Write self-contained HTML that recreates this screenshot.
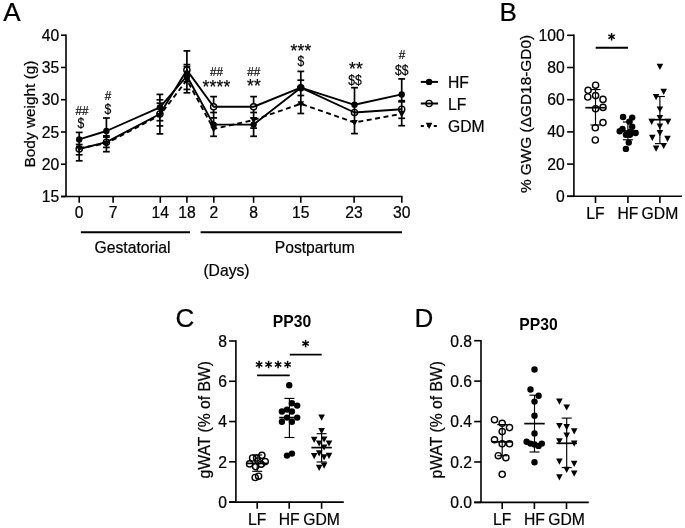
<!DOCTYPE html>
<html><head><meta charset="utf-8"><title>Figure</title>
<style>
html,body{margin:0;padding:0;background:#fff;}
body{width:685px;height:528px;overflow:hidden;}
svg{display:block;will-change:transform;}
svg text{font-family:"Liberation Sans", sans-serif;fill:#000;}
</style></head><body>
<svg width="685" height="528" viewBox="0 0 685 528" stroke="#000" stroke-linecap="butt">
<rect x="0" y="0" width="685" height="528" fill="#fff" stroke="none"/>
<text stroke="#000" stroke-width="0.22" x="3.25" y="21.40" font-size="26" text-anchor="start" font-weight="normal" >A</text>
<line x1="66.00" y1="34.40" x2="66.00" y2="196.50" stroke-width="1.6" />
<line x1="61.00" y1="196.50" x2="402.60" y2="196.50" stroke-width="1.6" />
<line x1="61.00" y1="35.20" x2="66.00" y2="35.20" stroke-width="1.6" />
<text stroke="#000" stroke-width="0.22" x="59.30" y="40.60" font-size="15.7" text-anchor="end" font-weight="normal" >40</text>
<line x1="61.00" y1="67.46" x2="66.00" y2="67.46" stroke-width="1.6" />
<text stroke="#000" stroke-width="0.22" x="59.30" y="72.86" font-size="15.7" text-anchor="end" font-weight="normal" >35</text>
<line x1="61.00" y1="99.72" x2="66.00" y2="99.72" stroke-width="1.6" />
<text stroke="#000" stroke-width="0.22" x="59.30" y="105.12" font-size="15.7" text-anchor="end" font-weight="normal" >30</text>
<line x1="61.00" y1="131.98" x2="66.00" y2="131.98" stroke-width="1.6" />
<text stroke="#000" stroke-width="0.22" x="59.30" y="137.98" font-size="15.7" text-anchor="end" font-weight="normal" >25</text>
<line x1="61.00" y1="164.24" x2="66.00" y2="164.24" stroke-width="1.6" />
<text stroke="#000" stroke-width="0.22" x="59.30" y="169.64" font-size="15.7" text-anchor="end" font-weight="normal" >20</text>
<line x1="61.00" y1="196.50" x2="66.00" y2="196.50" stroke-width="1.6" />
<text stroke="#000" stroke-width="0.22" x="59.30" y="201.90" font-size="15.7" text-anchor="end" font-weight="normal" >15</text>
<line x1="79.20" y1="196.50" x2="79.20" y2="202.80" stroke-width="1.6" />
<text stroke="#000" stroke-width="0.22" x="79.20" y="217.50" font-size="15.7" text-anchor="middle" font-weight="normal" >0</text>
<line x1="113.10" y1="196.50" x2="113.10" y2="202.80" stroke-width="1.6" />
<text stroke="#000" stroke-width="0.22" x="113.10" y="217.50" font-size="15.7" text-anchor="middle" font-weight="normal" >7</text>
<line x1="160.30" y1="196.50" x2="160.30" y2="202.80" stroke-width="1.6" />
<text stroke="#000" stroke-width="0.22" x="160.30" y="217.50" font-size="15.7" text-anchor="middle" font-weight="normal" >14</text>
<line x1="186.90" y1="196.50" x2="186.90" y2="202.80" stroke-width="1.6" />
<text stroke="#000" stroke-width="0.22" x="186.90" y="217.50" font-size="15.7" text-anchor="middle" font-weight="normal" >18</text>
<line x1="213.80" y1="196.50" x2="213.80" y2="202.80" stroke-width="1.6" />
<text stroke="#000" stroke-width="0.22" x="213.80" y="217.50" font-size="15.7" text-anchor="middle" font-weight="normal" >2</text>
<line x1="253.60" y1="196.50" x2="253.60" y2="202.80" stroke-width="1.6" />
<text stroke="#000" stroke-width="0.22" x="253.60" y="217.50" font-size="15.7" text-anchor="middle" font-weight="normal" >8</text>
<line x1="300.80" y1="196.50" x2="300.80" y2="202.80" stroke-width="1.6" />
<text stroke="#000" stroke-width="0.22" x="300.80" y="217.50" font-size="15.7" text-anchor="middle" font-weight="normal" >15</text>
<line x1="354.10" y1="196.50" x2="354.10" y2="202.80" stroke-width="1.6" />
<text stroke="#000" stroke-width="0.22" x="354.10" y="217.50" font-size="15.7" text-anchor="middle" font-weight="normal" >23</text>
<line x1="401.80" y1="196.50" x2="401.80" y2="202.80" stroke-width="1.6" />
<text stroke="#000" stroke-width="0.22" x="401.80" y="217.50" font-size="15.7" text-anchor="middle" font-weight="normal" >30</text>
<line x1="80.90" y1="232.30" x2="190.00" y2="232.30" stroke-width="1.9" />
<line x1="200.60" y1="232.30" x2="402.00" y2="232.30" stroke-width="1.9" />
<text stroke="#000" stroke-width="0.22" x="132.50" y="252.80" font-size="15.7" text-anchor="middle" font-weight="normal" >Gestatorial</text>
<text stroke="#000" stroke-width="0.22" x="314.80" y="252.80" font-size="15.7" text-anchor="middle" font-weight="normal" >Postpartum</text>
<text stroke="#000" stroke-width="0.22" x="226.50" y="275.50" font-size="15.7" text-anchor="middle" font-weight="normal" >(Days)</text>
<text stroke="#000" stroke-width="0.22" x="35.10" y="114.00" font-size="15.4" text-anchor="middle" font-weight="normal" transform="rotate(-90 35.1 114.0)">Body weight (g)</text>
<line x1="79.20" y1="132.40" x2="79.20" y2="160.80" stroke-width="1.7" />
<line x1="75.80" y1="132.40" x2="82.60" y2="132.40" stroke-width="1.7" />
<line x1="75.80" y1="144.50" x2="82.60" y2="144.50" stroke-width="1.7" />
<line x1="75.80" y1="154.80" x2="82.60" y2="154.80" stroke-width="1.7" />
<line x1="75.80" y1="160.80" x2="82.60" y2="160.80" stroke-width="1.7" />
<line x1="106.40" y1="118.00" x2="106.40" y2="151.70" stroke-width="1.7" />
<line x1="103.00" y1="118.00" x2="109.80" y2="118.00" stroke-width="1.7" />
<line x1="103.00" y1="135.90" x2="109.80" y2="135.90" stroke-width="1.7" />
<line x1="103.00" y1="137.10" x2="109.80" y2="137.10" stroke-width="1.7" />
<line x1="103.00" y1="147.40" x2="109.80" y2="147.40" stroke-width="1.7" />
<line x1="103.00" y1="151.70" x2="109.80" y2="151.70" stroke-width="1.7" />
<line x1="159.90" y1="94.40" x2="159.90" y2="133.90" stroke-width="1.7" />
<line x1="156.50" y1="94.40" x2="163.30" y2="94.40" stroke-width="1.7" />
<line x1="156.50" y1="99.80" x2="163.30" y2="99.80" stroke-width="1.7" />
<line x1="156.50" y1="103.20" x2="163.30" y2="103.20" stroke-width="1.7" />
<line x1="156.50" y1="120.70" x2="163.30" y2="120.70" stroke-width="1.7" />
<line x1="156.50" y1="125.90" x2="163.30" y2="125.90" stroke-width="1.7" />
<line x1="156.50" y1="133.90" x2="163.30" y2="133.90" stroke-width="1.7" />
<line x1="186.90" y1="50.90" x2="186.90" y2="92.80" stroke-width="1.7" />
<line x1="183.50" y1="50.90" x2="190.30" y2="50.90" stroke-width="1.7" />
<line x1="183.50" y1="64.60" x2="190.30" y2="64.60" stroke-width="1.7" />
<line x1="183.50" y1="66.60" x2="190.30" y2="66.60" stroke-width="1.7" />
<line x1="183.50" y1="81.70" x2="190.30" y2="81.70" stroke-width="1.7" />
<line x1="183.50" y1="89.40" x2="190.30" y2="89.40" stroke-width="1.7" />
<line x1="183.50" y1="92.80" x2="190.30" y2="92.80" stroke-width="1.7" />
<line x1="213.60" y1="96.60" x2="213.60" y2="136.30" stroke-width="1.7" />
<line x1="210.20" y1="96.60" x2="217.00" y2="96.60" stroke-width="1.7" />
<line x1="210.20" y1="112.50" x2="217.00" y2="112.50" stroke-width="1.7" />
<line x1="210.20" y1="117.90" x2="217.00" y2="117.90" stroke-width="1.7" />
<line x1="210.20" y1="136.30" x2="217.00" y2="136.30" stroke-width="1.7" />
<line x1="253.60" y1="96.60" x2="253.60" y2="136.30" stroke-width="1.7" />
<line x1="250.20" y1="96.60" x2="257.00" y2="96.60" stroke-width="1.7" />
<line x1="250.20" y1="112.50" x2="257.00" y2="112.50" stroke-width="1.7" />
<line x1="250.20" y1="117.90" x2="257.00" y2="117.90" stroke-width="1.7" />
<line x1="250.20" y1="128.10" x2="257.00" y2="128.10" stroke-width="1.7" />
<line x1="250.20" y1="136.30" x2="257.00" y2="136.30" stroke-width="1.7" />
<line x1="300.80" y1="71.40" x2="300.80" y2="113.50" stroke-width="1.7" />
<line x1="297.40" y1="71.40" x2="304.20" y2="71.40" stroke-width="1.7" />
<line x1="297.40" y1="80.20" x2="304.20" y2="80.20" stroke-width="1.7" />
<line x1="297.40" y1="95.50" x2="304.20" y2="95.50" stroke-width="1.7" />
<line x1="297.40" y1="104.20" x2="304.20" y2="104.20" stroke-width="1.7" />
<line x1="297.40" y1="113.50" x2="304.20" y2="113.50" stroke-width="1.7" />
<line x1="354.50" y1="87.70" x2="354.50" y2="133.60" stroke-width="1.7" />
<line x1="351.10" y1="87.70" x2="357.90" y2="87.70" stroke-width="1.7" />
<line x1="351.10" y1="133.60" x2="357.90" y2="133.60" stroke-width="1.7" />
<line x1="401.70" y1="78.90" x2="401.70" y2="125.70" stroke-width="1.7" />
<line x1="398.30" y1="78.90" x2="405.10" y2="78.90" stroke-width="1.7" />
<line x1="398.30" y1="100.70" x2="405.10" y2="100.70" stroke-width="1.7" />
<line x1="398.30" y1="101.80" x2="405.10" y2="101.80" stroke-width="1.7" />
<line x1="398.30" y1="118.30" x2="405.10" y2="118.30" stroke-width="1.7" />
<line x1="398.30" y1="125.70" x2="405.10" y2="125.70" stroke-width="1.7" />
<circle cx="213.60" cy="106.80" r="2.9" fill="#fff" stroke="none"/>
<circle cx="253.60" cy="106.80" r="2.9" fill="#fff" stroke="none"/>
<polyline points="79.20,148.30 106.40,143.30 159.90,115.30 186.90,80.00 213.60,129.00 253.60,120.00 300.80,103.80 354.50,122.50 401.70,113.80" fill="none" stroke-width="1.9" stroke-linejoin="round" stroke-dasharray="5 3.5"/>
<polyline points="79.20,149.00 106.40,142.20 159.90,114.00 186.90,70.10 213.60,106.80 253.60,106.80 300.80,87.70 354.50,112.50 401.70,109.20" fill="none" stroke-width="1.9" stroke-linejoin="round" />
<polyline points="79.20,139.40 106.40,131.00 159.90,107.40 186.90,76.00 213.60,124.60 253.60,124.60 300.80,87.70 354.50,104.80 401.70,94.40" fill="none" stroke-width="1.9" stroke-linejoin="round" />
<circle cx="79.20" cy="149.00" r="3.1" fill="none" stroke-width="1.4"/>
<circle cx="106.40" cy="142.20" r="3.1" fill="none" stroke-width="1.4"/>
<circle cx="159.90" cy="114.00" r="3.1" fill="none" stroke-width="1.4"/>
<circle cx="186.90" cy="70.10" r="3.1" fill="none" stroke-width="1.4"/>
<circle cx="213.60" cy="106.80" r="3.1" fill="none" stroke-width="1.4"/>
<circle cx="253.60" cy="106.80" r="3.1" fill="none" stroke-width="1.4"/>
<circle cx="300.80" cy="87.70" r="3.1" fill="none" stroke-width="1.4"/>
<circle cx="354.50" cy="112.50" r="3.1" fill="none" stroke-width="1.4"/>
<circle cx="401.70" cy="109.20" r="3.1" fill="none" stroke-width="1.4"/>
<path d="M75.90,145.70 L82.50,145.70 L79.20,151.90 Z" fill="#000" stroke="none"/>
<path d="M103.10,140.70 L109.70,140.70 L106.40,146.90 Z" fill="#000" stroke="none"/>
<path d="M156.60,112.70 L163.20,112.70 L159.90,118.90 Z" fill="#000" stroke="none"/>
<path d="M183.60,77.40 L190.20,77.40 L186.90,83.60 Z" fill="#000" stroke="none"/>
<path d="M210.30,126.40 L216.90,126.40 L213.60,132.60 Z" fill="#000" stroke="none"/>
<path d="M250.30,117.40 L256.90,117.40 L253.60,123.60 Z" fill="#000" stroke="none"/>
<path d="M297.50,101.20 L304.10,101.20 L300.80,107.40 Z" fill="#000" stroke="none"/>
<path d="M351.20,119.90 L357.80,119.90 L354.50,126.10 Z" fill="#000" stroke="none"/>
<path d="M398.40,111.20 L405.00,111.20 L401.70,117.40 Z" fill="#000" stroke="none"/>
<circle cx="79.20" cy="139.40" r="3.2" fill="#000" stroke="none"/>
<circle cx="106.40" cy="131.00" r="3.2" fill="#000" stroke="none"/>
<circle cx="159.90" cy="107.40" r="3.2" fill="#000" stroke="none"/>
<circle cx="186.90" cy="76.00" r="3.2" fill="#000" stroke="none"/>
<circle cx="213.60" cy="124.60" r="3.2" fill="#000" stroke="none"/>
<circle cx="253.60" cy="124.60" r="3.2" fill="#000" stroke="none"/>
<circle cx="300.80" cy="87.70" r="3.2" fill="#000" stroke="none"/>
<circle cx="354.50" cy="104.80" r="3.2" fill="#000" stroke="none"/>
<circle cx="401.70" cy="94.40" r="3.2" fill="#000" stroke="none"/>
<text stroke="#000" stroke-width="0.2" transform="translate(82.00,115.00) scale(0.86,1)" x="0" y="0" font-size="13.6" text-anchor="middle">##</text>
<text stroke="#000" stroke-width="0.2" transform="translate(81.00,128.25) scale(0.85,1)" x="0" y="0" font-size="14.3" text-anchor="middle">$</text>
<text stroke="#000" stroke-width="0.2" transform="translate(108.10,99.75) scale(0.86,1)" x="0" y="0" font-size="13.6" text-anchor="middle">#</text>
<text stroke="#000" stroke-width="0.2" transform="translate(108.00,114.40) scale(0.85,1)" x="0" y="0" font-size="14.3" text-anchor="middle">$</text>
<text stroke="#000" stroke-width="0.2" transform="translate(216.40,76.00) scale(0.86,1)" x="0" y="0" font-size="13.6" text-anchor="middle">##</text>
<text stroke="#000" stroke-width="0.2" x="205.80" y="92.97" font-size="17.5" text-anchor="middle">*</text>
<text stroke="#000" stroke-width="0.2" x="212.80" y="92.97" font-size="17.5" text-anchor="middle">*</text>
<text stroke="#000" stroke-width="0.2" x="219.80" y="92.97" font-size="17.5" text-anchor="middle">*</text>
<text stroke="#000" stroke-width="0.2" x="226.80" y="92.97" font-size="17.5" text-anchor="middle">*</text>
<text stroke="#000" stroke-width="0.2" transform="translate(253.70,76.00) scale(0.86,1)" x="0" y="0" font-size="13.6" text-anchor="middle">##</text>
<text stroke="#000" stroke-width="0.2" x="250.40" y="92.37" font-size="17.5" text-anchor="middle">*</text>
<text stroke="#000" stroke-width="0.2" x="257.40" y="92.37" font-size="17.5" text-anchor="middle">*</text>
<text stroke="#000" stroke-width="0.2" x="293.90" y="56.97" font-size="17.5" text-anchor="middle">*</text>
<text stroke="#000" stroke-width="0.2" x="300.90" y="56.97" font-size="17.5" text-anchor="middle">*</text>
<text stroke="#000" stroke-width="0.2" x="307.90" y="56.97" font-size="17.5" text-anchor="middle">*</text>
<text stroke="#000" stroke-width="0.2" transform="translate(300.80,66.35) scale(0.85,1)" x="0" y="0" font-size="14.3" text-anchor="middle">$</text>
<text stroke="#000" stroke-width="0.2" x="352.40" y="75.17" font-size="17.5" text-anchor="middle">*</text>
<text stroke="#000" stroke-width="0.2" x="359.40" y="75.17" font-size="17.5" text-anchor="middle">*</text>
<text stroke="#000" stroke-width="0.2" transform="translate(355.00,85.05) scale(0.85,1)" x="0" y="0" font-size="14.3" text-anchor="middle">$$</text>
<text stroke="#000" stroke-width="0.2" transform="translate(402.00,58.90) scale(0.86,1)" x="0" y="0" font-size="13.6" text-anchor="middle">#</text>
<text stroke="#000" stroke-width="0.2" transform="translate(401.80,74.75) scale(0.85,1)" x="0" y="0" font-size="14.3" text-anchor="middle">$$</text>
<line x1="420.80" y1="81.90" x2="438.10" y2="81.90" stroke-width="2.0" />
<circle cx="429.10" cy="81.90" r="3.2" fill="#000" stroke="none"/>
<line x1="420.80" y1="103.50" x2="438.10" y2="103.50" stroke-width="2.0" />
<circle cx="429.10" cy="103.50" r="3.1" fill="none" stroke-width="1.4"/>
<line x1="420.80" y1="126.00" x2="438.10" y2="126.00" stroke-width="2.0" stroke-dasharray="3 3.5"/>
<path d="M425.80,122.80 L432.40,122.80 L429.10,129.00 Z" fill="#000" stroke="none"/>
<text stroke="#000" stroke-width="0.22" x="448.00" y="87.60" font-size="15.7" text-anchor="start" font-weight="normal" >HF</text>
<text stroke="#000" stroke-width="0.22" x="448.00" y="109.60" font-size="15.7" text-anchor="start" font-weight="normal" >LF</text>
<text stroke="#000" stroke-width="0.22" x="448.00" y="131.60" font-size="15.7" text-anchor="start" font-weight="normal" >GDM</text>
<text stroke="#000" stroke-width="0.22" x="499.50" y="21.40" font-size="26" text-anchor="start" font-weight="normal" >B</text>
<line x1="573.90" y1="34.50" x2="573.90" y2="196.30" stroke-width="1.6" />
<line x1="567.10" y1="196.30" x2="682.00" y2="196.30" stroke-width="1.6" />
<line x1="567.10" y1="196.30" x2="573.90" y2="196.30" stroke-width="1.6" />
<text stroke="#000" stroke-width="0.22" x="564.80" y="201.70" font-size="15.7" text-anchor="end" font-weight="normal" >0</text>
<line x1="567.10" y1="164.10" x2="573.90" y2="164.10" stroke-width="1.6" />
<text stroke="#000" stroke-width="0.22" x="564.80" y="169.50" font-size="15.7" text-anchor="end" font-weight="normal" >20</text>
<line x1="567.10" y1="131.90" x2="573.90" y2="131.90" stroke-width="1.6" />
<text stroke="#000" stroke-width="0.22" x="564.80" y="137.30" font-size="15.7" text-anchor="end" font-weight="normal" >40</text>
<line x1="567.10" y1="99.70" x2="573.90" y2="99.70" stroke-width="1.6" />
<text stroke="#000" stroke-width="0.22" x="564.80" y="105.10" font-size="15.7" text-anchor="end" font-weight="normal" >60</text>
<line x1="567.10" y1="67.50" x2="573.90" y2="67.50" stroke-width="1.6" />
<text stroke="#000" stroke-width="0.22" x="564.80" y="72.90" font-size="15.7" text-anchor="end" font-weight="normal" >80</text>
<line x1="567.10" y1="35.30" x2="573.90" y2="35.30" stroke-width="1.6" />
<text stroke="#000" stroke-width="0.22" x="564.80" y="40.70" font-size="15.7" text-anchor="end" font-weight="normal" >100</text>
<line x1="595.50" y1="196.30" x2="595.50" y2="203.00" stroke-width="1.6" />
<text stroke="#000" stroke-width="0.22" x="595.50" y="218.80" font-size="15.7" text-anchor="middle" font-weight="normal" >LF</text>
<line x1="627.90" y1="196.30" x2="627.90" y2="203.00" stroke-width="1.6" />
<text stroke="#000" stroke-width="0.22" x="627.90" y="218.80" font-size="15.7" text-anchor="middle" font-weight="normal" >HF</text>
<line x1="659.90" y1="196.30" x2="659.90" y2="203.00" stroke-width="1.6" />
<text stroke="#000" stroke-width="0.22" x="659.90" y="218.80" font-size="15.7" text-anchor="middle" font-weight="normal" >GDM</text>
<text stroke="#000" stroke-width="0.22" x="531.00" y="114.00" font-size="15.4" text-anchor="middle" font-weight="normal" transform="rotate(-90 531.0 114.0)">% GWG (ΔGD18-GD0)</text>
<line x1="595.70" y1="47.70" x2="628.00" y2="47.70" stroke-width="1.9" />
<line x1="611.60" y1="33.10" x2="611.60" y2="40.50" stroke-width="1.5"/>
<line x1="608.40" y1="34.95" x2="614.80" y2="38.65" stroke-width="1.5"/>
<line x1="614.80" y1="34.95" x2="608.40" y2="38.65" stroke-width="1.5"/>
<circle cx="611.60" cy="36.80" r="1.2" fill="#000" stroke="none"/>
<line x1="595.50" y1="89.60" x2="595.50" y2="125.00" stroke-width="1.15" />
<line x1="590.50" y1="89.60" x2="600.50" y2="89.60" stroke-width="1.15" />
<line x1="590.50" y1="125.00" x2="600.50" y2="125.00" stroke-width="1.15" />
<line x1="585.30" y1="107.70" x2="605.70" y2="107.70" stroke-width="1.7" />
<circle cx="595.60" cy="85.20" r="3.1" fill="none" stroke-width="1.4"/>
<circle cx="588.10" cy="90.30" r="3.1" fill="none" stroke-width="1.4"/>
<circle cx="595.60" cy="95.60" r="3.1" fill="none" stroke-width="1.4"/>
<circle cx="587.80" cy="97.00" r="3.1" fill="none" stroke-width="1.4"/>
<circle cx="603.00" cy="99.40" r="3.1" fill="none" stroke-width="1.4"/>
<circle cx="595.60" cy="108.80" r="3.1" fill="none" stroke-width="1.4"/>
<circle cx="603.00" cy="107.40" r="3.1" fill="none" stroke-width="1.4"/>
<circle cx="603.00" cy="122.60" r="3.1" fill="none" stroke-width="1.4"/>
<circle cx="595.30" cy="127.80" r="3.1" fill="none" stroke-width="1.4"/>
<circle cx="595.30" cy="140.00" r="3.1" fill="none" stroke-width="1.4"/>
<line x1="627.90" y1="122.00" x2="627.90" y2="139.80" stroke-width="1.15" />
<line x1="622.90" y1="122.00" x2="632.90" y2="122.00" stroke-width="1.15" />
<line x1="622.90" y1="139.80" x2="632.90" y2="139.80" stroke-width="1.15" />
<line x1="617.70" y1="131.00" x2="638.10" y2="131.00" stroke-width="1.7" />
<circle cx="623.10" cy="117.00" r="3.2" fill="#000" stroke="none"/>
<circle cx="632.20" cy="117.60" r="3.2" fill="#000" stroke="none"/>
<circle cx="629.30" cy="121.60" r="3.2" fill="#000" stroke="none"/>
<circle cx="632.20" cy="126.70" r="3.2" fill="#000" stroke="none"/>
<circle cx="622.50" cy="129.00" r="3.2" fill="#000" stroke="none"/>
<circle cx="619.70" cy="131.25" r="3.2" fill="#000" stroke="none"/>
<circle cx="630.50" cy="131.80" r="3.2" fill="#000" stroke="none"/>
<circle cx="635.60" cy="133.00" r="3.2" fill="#000" stroke="none"/>
<circle cx="625.90" cy="134.70" r="3.2" fill="#000" stroke="none"/>
<circle cx="629.90" cy="134.70" r="3.2" fill="#000" stroke="none"/>
<circle cx="628.75" cy="142.60" r="3.2" fill="#000" stroke="none"/>
<circle cx="625.90" cy="148.90" r="3.2" fill="#000" stroke="none"/>
<line x1="659.90" y1="96.50" x2="659.90" y2="143.60" stroke-width="1.15" />
<line x1="654.90" y1="96.50" x2="664.90" y2="96.50" stroke-width="1.15" />
<line x1="654.90" y1="143.60" x2="664.90" y2="143.60" stroke-width="1.15" />
<line x1="649.70" y1="119.70" x2="670.10" y2="119.70" stroke-width="1.7" />
<path d="M656.60,63.80 L663.20,63.80 L659.90,70.00 Z" fill="#000" stroke="none"/>
<path d="M660.40,88.80 L667.00,88.80 L663.70,95.00 Z" fill="#000" stroke="none"/>
<path d="M652.80,94.10 L659.40,94.10 L656.10,100.30 Z" fill="#000" stroke="none"/>
<path d="M656.60,106.40 L663.20,106.40 L659.90,112.60 Z" fill="#000" stroke="none"/>
<path d="M656.60,114.90 L663.20,114.90 L659.90,121.10 Z" fill="#000" stroke="none"/>
<path d="M648.40,118.70 L655.00,118.70 L651.70,124.90 Z" fill="#000" stroke="none"/>
<path d="M664.70,118.70 L671.30,118.70 L668.00,124.90 Z" fill="#000" stroke="none"/>
<path d="M656.60,123.40 L663.20,123.40 L659.90,129.60 Z" fill="#000" stroke="none"/>
<path d="M656.60,130.10 L663.20,130.10 L659.90,136.30 Z" fill="#000" stroke="none"/>
<path d="M649.00,134.80 L655.60,134.80 L652.30,141.00 Z" fill="#000" stroke="none"/>
<path d="M664.20,135.70 L670.80,135.70 L667.50,141.90 Z" fill="#000" stroke="none"/>
<path d="M660.40,142.90 L667.00,142.90 L663.70,149.10 Z" fill="#000" stroke="none"/>
<path d="M652.80,145.60 L659.40,145.60 L656.10,151.80 Z" fill="#000" stroke="none"/>
<text stroke="#000" stroke-width="0.22" x="175.40" y="326.80" font-size="26" text-anchor="start" font-weight="normal" >C</text>
<line x1="235.90" y1="340.20" x2="235.90" y2="502.10" stroke-width="1.6" />
<line x1="229.10" y1="502.10" x2="343.80" y2="502.10" stroke-width="1.6" />
<line x1="229.10" y1="502.10" x2="235.90" y2="502.10" stroke-width="1.6" />
<text stroke="#000" stroke-width="0.22" x="227.00" y="508.00" font-size="15.7" text-anchor="end" font-weight="normal" >0</text>
<line x1="229.10" y1="461.83" x2="235.90" y2="461.83" stroke-width="1.6" />
<text stroke="#000" stroke-width="0.22" x="227.00" y="467.73" font-size="15.7" text-anchor="end" font-weight="normal" >2</text>
<line x1="229.10" y1="421.55" x2="235.90" y2="421.55" stroke-width="1.6" />
<text stroke="#000" stroke-width="0.22" x="227.00" y="427.45" font-size="15.7" text-anchor="end" font-weight="normal" >4</text>
<line x1="229.10" y1="381.28" x2="235.90" y2="381.28" stroke-width="1.6" />
<text stroke="#000" stroke-width="0.22" x="227.00" y="387.18" font-size="15.7" text-anchor="end" font-weight="normal" >6</text>
<line x1="229.10" y1="341.00" x2="235.90" y2="341.00" stroke-width="1.6" />
<text stroke="#000" stroke-width="0.22" x="227.00" y="346.90" font-size="15.7" text-anchor="end" font-weight="normal" >8</text>
<line x1="257.20" y1="502.10" x2="257.20" y2="508.80" stroke-width="1.6" />
<text stroke="#000" stroke-width="0.22" x="257.20" y="524.50" font-size="15.7" text-anchor="middle" font-weight="normal" >LF</text>
<line x1="289.20" y1="502.10" x2="289.20" y2="508.80" stroke-width="1.6" />
<text stroke="#000" stroke-width="0.22" x="289.20" y="524.50" font-size="15.7" text-anchor="middle" font-weight="normal" >HF</text>
<line x1="321.60" y1="502.10" x2="321.60" y2="508.80" stroke-width="1.6" />
<text stroke="#000" stroke-width="0.22" x="321.60" y="524.50" font-size="15.7" text-anchor="middle" font-weight="normal" >GDM</text>
<text stroke="none" x="292.00" y="326.50" font-size="15.7" text-anchor="middle" font-weight="bold" >PP30</text>
<text stroke="#000" stroke-width="0.22" x="209.90" y="419.80" font-size="15.7" text-anchor="middle" font-weight="normal" transform="rotate(-90 209.9 419.8)">gWAT (% of BW)</text>
<line x1="257.10" y1="375.40" x2="289.80" y2="375.40" stroke-width="1.9" />
<line x1="259.10" y1="360.80" x2="259.10" y2="368.20" stroke-width="1.5"/>
<line x1="255.90" y1="362.65" x2="262.30" y2="366.35" stroke-width="1.5"/>
<line x1="262.30" y1="362.65" x2="255.90" y2="366.35" stroke-width="1.5"/>
<circle cx="259.10" cy="364.50" r="1.2" fill="#000" stroke="none"/>
<line x1="268.60" y1="360.80" x2="268.60" y2="368.20" stroke-width="1.5"/>
<line x1="265.40" y1="362.65" x2="271.80" y2="366.35" stroke-width="1.5"/>
<line x1="271.80" y1="362.65" x2="265.40" y2="366.35" stroke-width="1.5"/>
<circle cx="268.60" cy="364.50" r="1.2" fill="#000" stroke="none"/>
<line x1="278.10" y1="360.80" x2="278.10" y2="368.20" stroke-width="1.5"/>
<line x1="274.90" y1="362.65" x2="281.30" y2="366.35" stroke-width="1.5"/>
<line x1="281.30" y1="362.65" x2="274.90" y2="366.35" stroke-width="1.5"/>
<circle cx="278.10" cy="364.50" r="1.2" fill="#000" stroke="none"/>
<line x1="287.60" y1="360.80" x2="287.60" y2="368.20" stroke-width="1.5"/>
<line x1="284.40" y1="362.65" x2="290.80" y2="366.35" stroke-width="1.5"/>
<line x1="290.80" y1="362.65" x2="284.40" y2="366.35" stroke-width="1.5"/>
<circle cx="287.60" cy="364.50" r="1.2" fill="#000" stroke="none"/>
<line x1="289.80" y1="354.60" x2="321.70" y2="354.60" stroke-width="1.9" />
<line x1="305.60" y1="339.90" x2="305.60" y2="347.30" stroke-width="1.5"/>
<line x1="302.40" y1="341.75" x2="308.80" y2="345.45" stroke-width="1.5"/>
<line x1="308.80" y1="341.75" x2="302.40" y2="345.45" stroke-width="1.5"/>
<circle cx="305.60" cy="343.60" r="1.2" fill="#000" stroke="none"/>
<line x1="257.20" y1="455.00" x2="257.20" y2="471.30" stroke-width="1.15" />
<line x1="252.20" y1="455.00" x2="262.20" y2="455.00" stroke-width="1.15" />
<line x1="252.20" y1="471.30" x2="262.20" y2="471.30" stroke-width="1.15" />
<line x1="247.00" y1="463.40" x2="267.40" y2="463.40" stroke-width="1.7" />
<circle cx="261.90" cy="455.30" r="3.1" fill="none" stroke-width="1.4"/>
<circle cx="252.60" cy="458.00" r="3.1" fill="none" stroke-width="1.4"/>
<circle cx="256.60" cy="458.00" r="3.1" fill="none" stroke-width="1.4"/>
<circle cx="265.20" cy="461.60" r="3.1" fill="none" stroke-width="1.4"/>
<circle cx="249.60" cy="463.90" r="3.1" fill="none" stroke-width="1.4"/>
<circle cx="255.60" cy="466.60" r="3.1" fill="none" stroke-width="1.4"/>
<circle cx="261.20" cy="464.20" r="3.1" fill="none" stroke-width="1.4"/>
<circle cx="258.00" cy="461.00" r="3.1" fill="none" stroke-width="1.4"/>
<circle cx="255.20" cy="477.50" r="3.1" fill="none" stroke-width="1.4"/>
<circle cx="258.60" cy="476.20" r="3.1" fill="none" stroke-width="1.4"/>
<line x1="289.40" y1="398.40" x2="289.40" y2="437.50" stroke-width="1.15" />
<line x1="284.40" y1="398.40" x2="294.40" y2="398.40" stroke-width="1.15" />
<line x1="284.40" y1="437.50" x2="294.40" y2="437.50" stroke-width="1.15" />
<line x1="279.20" y1="417.60" x2="299.60" y2="417.60" stroke-width="1.7" />
<circle cx="289.20" cy="385.30" r="3.2" fill="#000" stroke="none"/>
<circle cx="291.90" cy="403.30" r="3.2" fill="#000" stroke="none"/>
<circle cx="297.20" cy="405.60" r="3.2" fill="#000" stroke="none"/>
<circle cx="287.00" cy="409.60" r="3.2" fill="#000" stroke="none"/>
<circle cx="281.90" cy="411.50" r="3.2" fill="#000" stroke="none"/>
<circle cx="291.90" cy="411.50" r="3.2" fill="#000" stroke="none"/>
<circle cx="287.00" cy="417.60" r="3.2" fill="#000" stroke="none"/>
<circle cx="297.20" cy="417.60" r="3.2" fill="#000" stroke="none"/>
<circle cx="281.90" cy="421.80" r="3.2" fill="#000" stroke="none"/>
<circle cx="291.90" cy="421.80" r="3.2" fill="#000" stroke="none"/>
<circle cx="287.00" cy="455.60" r="3.2" fill="#000" stroke="none"/>
<circle cx="291.90" cy="453.60" r="3.2" fill="#000" stroke="none"/>
<line x1="321.60" y1="433.70" x2="321.60" y2="462.00" stroke-width="1.15" />
<line x1="316.60" y1="433.70" x2="326.60" y2="433.70" stroke-width="1.15" />
<line x1="316.60" y1="462.00" x2="326.60" y2="462.00" stroke-width="1.15" />
<line x1="311.40" y1="447.60" x2="331.80" y2="447.60" stroke-width="1.7" />
<path d="M318.30,414.50 L324.90,414.50 L321.60,420.70 Z" fill="#000" stroke="none"/>
<path d="M318.30,428.10 L324.90,428.10 L321.60,434.30 Z" fill="#000" stroke="none"/>
<path d="M310.90,436.70 L317.50,436.70 L314.20,442.90 Z" fill="#000" stroke="none"/>
<path d="M320.80,436.40 L327.40,436.40 L324.10,442.60 Z" fill="#000" stroke="none"/>
<path d="M315.90,440.40 L322.50,440.40 L319.20,446.60 Z" fill="#000" stroke="none"/>
<path d="M325.70,440.40 L332.30,440.40 L329.00,446.60 Z" fill="#000" stroke="none"/>
<path d="M320.80,444.40 L327.40,444.40 L324.10,450.60 Z" fill="#000" stroke="none"/>
<path d="M315.90,450.30 L322.50,450.30 L319.20,456.50 Z" fill="#000" stroke="none"/>
<path d="M310.90,453.00 L317.50,453.00 L314.20,459.20 Z" fill="#000" stroke="none"/>
<path d="M325.70,452.80 L332.30,452.80 L329.00,459.00 Z" fill="#000" stroke="none"/>
<path d="M320.80,454.20 L327.40,454.20 L324.10,460.40 Z" fill="#000" stroke="none"/>
<path d="M315.90,464.70 L322.50,464.70 L319.20,470.90 Z" fill="#000" stroke="none"/>
<path d="M320.80,462.60 L327.40,462.60 L324.10,468.80 Z" fill="#000" stroke="none"/>
<text stroke="#000" stroke-width="0.22" x="414.40" y="326.50" font-size="26" text-anchor="start" font-weight="normal" >D</text>
<line x1="481.00" y1="339.90" x2="481.00" y2="502.40" stroke-width="1.6" />
<line x1="474.20" y1="502.40" x2="588.80" y2="502.40" stroke-width="1.6" />
<line x1="474.20" y1="502.40" x2="481.00" y2="502.40" stroke-width="1.6" />
<text stroke="#000" stroke-width="0.22" x="472.00" y="508.30" font-size="15.7" text-anchor="end" font-weight="normal" >0.0</text>
<line x1="474.20" y1="461.97" x2="481.00" y2="461.97" stroke-width="1.6" />
<text stroke="#000" stroke-width="0.22" x="472.00" y="467.87" font-size="15.7" text-anchor="end" font-weight="normal" >0.2</text>
<line x1="474.20" y1="421.55" x2="481.00" y2="421.55" stroke-width="1.6" />
<text stroke="#000" stroke-width="0.22" x="472.00" y="427.45" font-size="15.7" text-anchor="end" font-weight="normal" >0.4</text>
<line x1="474.20" y1="381.12" x2="481.00" y2="381.12" stroke-width="1.6" />
<text stroke="#000" stroke-width="0.22" x="472.00" y="387.02" font-size="15.7" text-anchor="end" font-weight="normal" >0.6</text>
<line x1="474.20" y1="340.70" x2="481.00" y2="340.70" stroke-width="1.6" />
<text stroke="#000" stroke-width="0.22" x="472.00" y="346.60" font-size="15.7" text-anchor="end" font-weight="normal" >0.8</text>
<line x1="502.20" y1="502.40" x2="502.20" y2="509.00" stroke-width="1.6" />
<text stroke="#000" stroke-width="0.22" x="502.20" y="524.80" font-size="15.7" text-anchor="middle" font-weight="normal" >LF</text>
<line x1="534.40" y1="502.40" x2="534.40" y2="509.00" stroke-width="1.6" />
<text stroke="#000" stroke-width="0.22" x="534.40" y="524.80" font-size="15.7" text-anchor="middle" font-weight="normal" >HF</text>
<line x1="566.50" y1="502.40" x2="566.50" y2="509.00" stroke-width="1.6" />
<text stroke="#000" stroke-width="0.22" x="566.50" y="524.80" font-size="15.7" text-anchor="middle" font-weight="normal" >GDM</text>
<text stroke="none" x="538.50" y="329.80" font-size="15.7" text-anchor="middle" font-weight="bold" >PP30</text>
<text stroke="#000" stroke-width="0.22" x="442.30" y="419.80" font-size="15.7" text-anchor="middle" font-weight="normal" transform="rotate(-90 442.3 419.8)">pWAT (% of BW)</text>
<line x1="502.20" y1="424.60" x2="502.20" y2="455.70" stroke-width="1.15" />
<line x1="497.20" y1="424.60" x2="507.20" y2="424.60" stroke-width="1.15" />
<line x1="497.20" y1="455.70" x2="507.20" y2="455.70" stroke-width="1.15" />
<line x1="492.00" y1="441.80" x2="512.40" y2="441.80" stroke-width="1.7" />
<circle cx="494.50" cy="419.70" r="3.1" fill="none" stroke-width="1.4"/>
<circle cx="502.20" cy="423.30" r="3.1" fill="none" stroke-width="1.4"/>
<circle cx="509.50" cy="427.60" r="3.1" fill="none" stroke-width="1.4"/>
<circle cx="502.20" cy="431.60" r="3.1" fill="none" stroke-width="1.4"/>
<circle cx="494.50" cy="439.80" r="3.1" fill="none" stroke-width="1.4"/>
<circle cx="502.20" cy="443.80" r="3.1" fill="none" stroke-width="1.4"/>
<circle cx="509.50" cy="443.80" r="3.1" fill="none" stroke-width="1.4"/>
<circle cx="498.30" cy="455.70" r="3.1" fill="none" stroke-width="1.4"/>
<circle cx="505.90" cy="457.70" r="3.1" fill="none" stroke-width="1.4"/>
<circle cx="502.20" cy="474.30" r="3.1" fill="none" stroke-width="1.4"/>
<line x1="534.50" y1="395.20" x2="534.50" y2="452.00" stroke-width="1.15" />
<line x1="529.50" y1="395.20" x2="539.50" y2="395.20" stroke-width="1.15" />
<line x1="529.50" y1="452.00" x2="539.50" y2="452.00" stroke-width="1.15" />
<line x1="524.30" y1="423.60" x2="544.70" y2="423.60" stroke-width="1.7" />
<circle cx="534.50" cy="369.50" r="3.2" fill="#000" stroke="none"/>
<circle cx="530.50" cy="389.50" r="3.2" fill="#000" stroke="none"/>
<circle cx="538.60" cy="395.70" r="3.2" fill="#000" stroke="none"/>
<circle cx="534.50" cy="401.60" r="3.2" fill="#000" stroke="none"/>
<circle cx="534.50" cy="415.70" r="3.2" fill="#000" stroke="none"/>
<circle cx="534.50" cy="433.40" r="3.2" fill="#000" stroke="none"/>
<circle cx="526.60" cy="441.80" r="3.2" fill="#000" stroke="none"/>
<circle cx="534.50" cy="444.50" r="3.2" fill="#000" stroke="none"/>
<circle cx="538.60" cy="445.90" r="3.2" fill="#000" stroke="none"/>
<circle cx="541.80" cy="443.60" r="3.2" fill="#000" stroke="none"/>
<circle cx="530.50" cy="443.60" r="3.2" fill="#000" stroke="none"/>
<circle cx="534.50" cy="462.30" r="3.2" fill="#000" stroke="none"/>
<line x1="566.70" y1="418.10" x2="566.70" y2="467.60" stroke-width="1.15" />
<line x1="561.70" y1="418.10" x2="571.70" y2="418.10" stroke-width="1.15" />
<line x1="561.70" y1="467.60" x2="571.70" y2="467.60" stroke-width="1.15" />
<line x1="556.50" y1="443.30" x2="576.90" y2="443.30" stroke-width="1.7" />
<path d="M556.10,398.50 L562.70,398.50 L559.40,404.70 Z" fill="#000" stroke="none"/>
<path d="M563.40,404.40 L570.00,404.40 L566.70,410.60 Z" fill="#000" stroke="none"/>
<path d="M556.10,422.90 L562.70,422.90 L559.40,429.10 Z" fill="#000" stroke="none"/>
<path d="M563.40,424.00 L570.00,424.00 L566.70,430.20 Z" fill="#000" stroke="none"/>
<path d="M570.90,428.30 L577.50,428.30 L574.20,434.50 Z" fill="#000" stroke="none"/>
<path d="M563.40,432.60 L570.00,432.60 L566.70,438.80 Z" fill="#000" stroke="none"/>
<path d="M556.10,438.20 L562.70,438.20 L559.40,444.40 Z" fill="#000" stroke="none"/>
<path d="M570.90,440.60 L577.50,440.60 L574.20,446.80 Z" fill="#000" stroke="none"/>
<path d="M556.10,458.60 L562.70,458.60 L559.40,464.80 Z" fill="#000" stroke="none"/>
<path d="M570.90,460.70 L577.50,460.70 L574.20,466.90 Z" fill="#000" stroke="none"/>
<path d="M563.40,466.70 L570.00,466.70 L566.70,472.90 Z" fill="#000" stroke="none"/>
<path d="M570.90,470.60 L577.50,470.60 L574.20,476.80 Z" fill="#000" stroke="none"/>
<path d="M556.10,474.30 L562.70,474.30 L559.40,480.50 Z" fill="#000" stroke="none"/>
</svg>
</body></html>
